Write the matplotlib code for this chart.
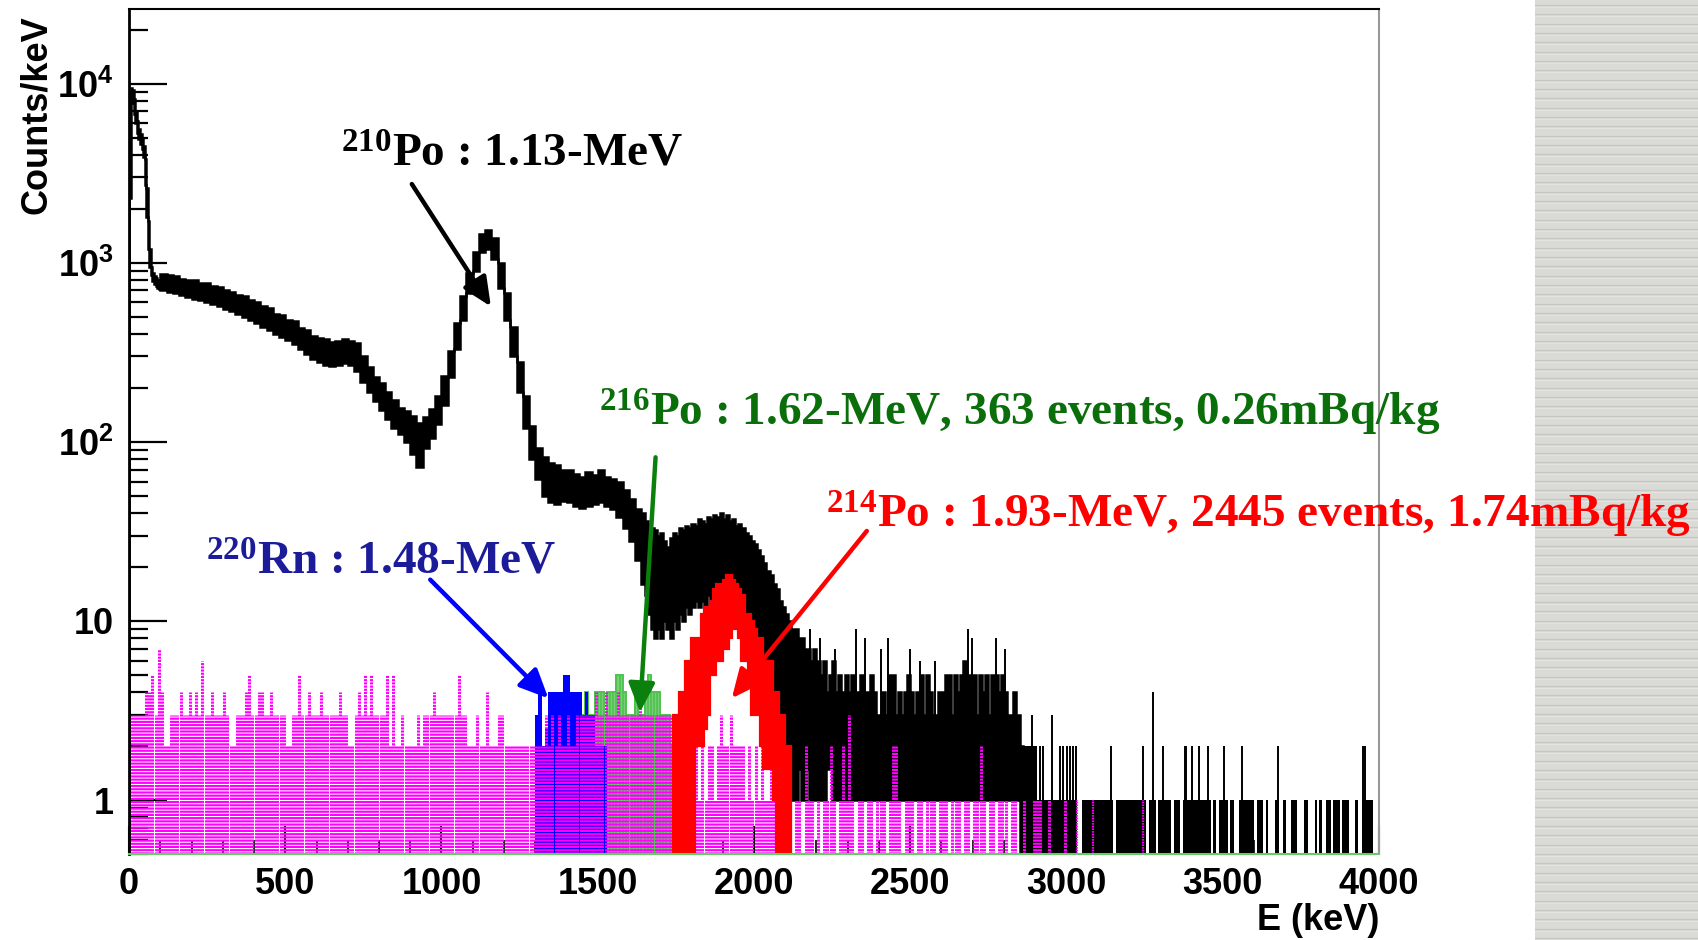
import numpy as np
import matplotlib
matplotlib.use('Agg')
import matplotlib.pyplot as plt
from matplotlib.ticker import FixedLocator, FixedFormatter, NullFormatter, MultipleLocator

plt.rcParams['font.family'] = 'Liberation Sans'
plt.rcParams['font.weight'] = 'bold'
plt.rcParams['axes.labelweight'] = 'bold'
plt.rcParams['mathtext.fontset'] = 'custom'
plt.rcParams['mathtext.rm'] = 'Liberation Serif:bold'
plt.rcParams['mathtext.it'] = 'Liberation Serif:bold:italic'
plt.rcParams['mathtext.bf'] = 'Liberation Sans:bold'
plt.rcParams['mathtext.sf'] = 'Liberation Sans:bold'

Y_BOTTOM = 0.5

# ---- black: total spectrum, drawn as a noisy band (upper / lower envelope) ----
blk_edges = np.concatenate([np.arange(0, 100, 5), np.arange(100, 1640, 20),
                            np.arange(1640, 2861, 10)])
# 0-100 keV, 5 keV bins
blk_hi_a = [9000, 9500, 9200, 8200, 7000, 6200, 5600, 5200, 4900, 4500,
            3800, 2600, 1700, 1200, 950, 880, 840, 820, 800, 790]
blk_lo_a = [2300, 8000, 7800, 6800, 6000, 5300, 4900, 4600, 4300, 3900,
            2700, 1800, 1200, 950, 850, 790, 760, 740, 720, 710]
# 100-1640 keV, 20 keV bins
blk_hi_b = [860, 850, 840, 810, 800, 800, 770, 770, 740, 730,
            700, 690, 660, 650, 620, 600, 570, 560, 520, 510,
            480, 470, 430, 420, 390, 380, 375, 360, 365, 375,
            365, 355, 300, 262, 230, 212, 190, 172, 155, 148,
            140, 128, 138, 152, 180, 232, 320, 460, 650, 880,
            1150, 1450, 1530, 1380, 1000, 680, 440, 280, 180, 122,
            92, 82, 76, 74, 70, 70, 66, 64, 68, 65,
            70, 64, 62, 60, 54, 48, 42]
blk_lo_b = [700, 690, 680, 660, 640, 630, 620, 600, 590, 570,
            550, 540, 520, 500, 480, 460, 440, 420, 400, 385,
            370, 350, 330, 310, 290, 280, 270, 265, 270, 275,
            270, 250, 215, 190, 170, 150, 135, 120, 110, 100,
            85, 72, 92, 105, 125, 160, 230, 330, 480, 680,
            900, 1150, 1200, 1050, 720, 480, 300, 190, 120, 80,
            62, 50, 46, 45, 47, 46, 44, 43, 44, 45,
            46, 44, 42, 38, 33, 28, 22]
# 1640-2860 keV, 10 keV bins
blk_hi_c = [40, 36, 35, 33, 32, 30,
            31, 28, 26, 29, 31, 30, 33, 32, 34, 33,
            35, 34, 37, 36, 35, 38, 37, 39, 38, 40,
            37, 39, 36, 37, 34, 35, 33, 31, 30, 28,
            27, 25, 23, 21, 19, 18, 16, 15, 13, 12,
            11, 10, 9, 9, 8, 8, 7, 7, 6, 7,
            6, 5, 6, 4, 5, 6, 4, 5, 4, 5,
            4, 5, 3, 4, 5, 3, 4, 5, 4, 3,
            3, 4, 3, 5, 5, 3, 4, 3, 4, 5,
            4, 3, 4, 5, 3, 5, 4, 3, 3, 4,
            4, 5, 5, 3, 5, 4, 5, 6, 5, 4,
            5, 3, 5, 4, 5, 3, 5, 5, 4, 5,
            4, 3, 3, 4, 3, 2]
blk_lo_c = [16, 14, 11, 9, 8, 9,
            8, 10, 9, 8, 10, 9, 11, 10, 12, 11,
            12, 13, 12, 13, 12, 14, 13, 13, 14, 13,
            12, 13, 12, 11, 12, 10, 10, 9, 9, 8,
            7, 6, 6, 5, 4, 4, 3, 3, 2.5, 2,
            2, 1.5, 1, 1, 1.5, 1, 1, 1.5, 1, 1,
            1, 1, 1, 1.5, 1.5, 1, 1, 1, 1, 1,
            1, 1, 1, 1, 1, 1, 1, 1, 1, 1,
            1, 1, 1, 1, 1, 1, 1, 1, 1, 1,
            1, 1, 1, 1, 1, 1, 1, 1, 1, 1,
            1, 1, 1, 1, 1, 1, 1, 1, 1, 1,
            1, 1, 1, 1, 1, 1, 1, 1, 1, 1,
            1, 1, 1, 1, 1, 0.5]

# sparse tail above 2850 keV: blocks of counts and single-bin spikes
tail_start = [2850, 2862, 3049, 3160, 3265, 3294, 3345, 3374, 3470, 3489, 3523,
              3551, 3609, 3637, 3666, 3694, 3717, 3760, 3794, 3809, 3830,
              3854, 3882, 3924, 3947]
tail_end = [3033, 2904, 3150, 3256, 3286, 3336, 3363, 3464, 3478, 3516, 3537,
            3600, 3628, 3645, 3679, 3702, 3739, 3774, 3802, 3819, 3848,
            3875, 3904, 3933, 3981]
tail_count = [1, 2, 1, 1, 1, 1, 1, 1, 1, 1, 1,
              1, 1, 1, 1, 1, 1, 1, 1, 1, 1,
              1, 1, 1, 1]
spike_E = [2179, 2211, 2260, 2328, 2355, 2408, 2430, 2499, 2530, 2580, 2686,
           2699, 2774, 2803, 2888, 2915, 2925, 2952, 2980, 2990, 3000, 3010,
           3020, 3030, 3141, 3246, 3277, 3310, 3378, 3384, 3403, 3424, 3453,
           3503, 3562, 3676, 3948, 3955]
spike_c = [9, 8, 7, 9, 8, 7, 8, 7, 6, 6, 9,
           8, 8, 7, 3, 2, 2, 3, 2, 2, 2, 2,
           2, 2, 2, 2, 4, 2, 2, 2, 2, 2, 2,
           2, 2, 2, 2, 2]

# ---- 220Rn (blue) ----
blu_edges = np.arange(1300, 1531, 10)
blu_hi = [3, 4, 2, 2.5, 4, 4, 4, 4, 4, 5, 5, 4, 4, 4, 4, 3, 4, 3, 3, 2, 2, 2, 2]

# ---- 216Po (green) ----
grn_edges = np.arange(1450, 1761, 10)
grn_hi = [3, 4, 3, 3, 4, 4, 4, 3, 4, 4, 4, 5, 5, 4, 3, 3, 3, 4, 3, 3,
          4, 5, 4, 4, 4, 3, 3, 3, 2, 2, 2]

# ---- 214Po (red) ----
red_edges = np.arange(1740, 2121, 10)
red_hi = [3, 3, 4, 4, 6, 6, 8, 8, 8, 11, 12, 12, 13, 15, 16, 16, 17, 18, 18,
          17, 16, 15, 14, 11, 11, 10, 9, 8, 8, 6, 6, 6, 4, 4, 3, 3, 2, 2]
red_lo = [0.5, 0.5, 0.5, 0.5, 0.5, 0.5, 0.5, 2, 2, 2, 2.5, 3, 5, 5, 6, 6, 7, 7, 8,
          9, 9, 8, 6, 6, 5, 3, 3, 3, 2, 1.5, 1.5, 1.5, 1, 0.5, 0.5, 0.5, 0.5, 0.5]

# ---- background (magenta, dotted), 10 keV bins from 0 keV ----
mag_E = np.arange(0, 3000, 10)
mag_lvl = [3, 3, 3, 3, 3, 4, 4, 5, 3, 7,
           4, 2, 2, 3, 3, 3, 4, 3, 3, 4,
           3, 4, 3, 6, 3, 3, 4, 3, 3, 3,
           4, 3, 2, 2, 3, 3, 3, 4, 5, 3,
           3, 4, 4, 3, 3, 4, 3, 3, 3, 3,
           2, 2, 3, 3, 5, 3, 3, 4, 3, 3,
           3, 4, 3, 3, 3, 3, 3, 4, 3, 3,
           2, 2, 3, 4, 3, 5, 3, 5, 3, 3,
           3, 3, 5, 2, 5, 2, 2, 3, 2, 2,
           2, 2, 3, 2, 3, 3, 3, 4, 3, 3,
           3, 3, 3, 3, 3, 5, 3, 3, 2, 2,
           2, 3, 2, 2, 4, 2, 2, 2, 3, 3,
           2, 2, 2, 2, 2, 2, 2, 2, 2, 2,
           2, 2, 2, 3, 2, 3, 2, 3, 2, 2,
           3, 2, 2, 3, 3, 3, 3, 3, 3, 4,
           3, 3, 4, 3, 3, 3, 4, 3, 3, 3,
           3, 3, 3, 4, 3, 3, 3, 3, 3, 3,
           3, 3, 3, 3, 3, 3, 2, 2, 2, 2,
           1, 2, 1, 2, 1, 2, 2, 1, 2, 3,
           2, 2, 3, 2, 2, 2, 2, 1, 2, 1,
           2, 1, 2, 1, 1, 2, 1, 1, 1, 1,
           1, 1, 0, 1, 1, 0, 2, 1, 1, 0,
           1, 0, 1, 1, 2, 1, 0, 1, 2, 1,
           3, 1, 0, 1, 1, 0, 1, 1, 0, 1,
           1, 1, 0, 1, 2, 2, 1, 0, 1, 1,
           1, 0, 1, 1, 0, 1, 1, 1, 0, 1,
           1, 1, 0, 1, 1, 1, 0, 1, 1, 0,
           1, 1, 2, 1, 0, 1, 1, 0, 1, 1,
           1, 0, 1, 1, 0, 0, 1, 0, 0, 1,
           1, 1, 0, 0, 1, 0, 0, 0, 0, 1]
mag_xtra_E = [3035, 3085, 3245]

# ---- labels / arrows: (text, text colour, arrow colour, text anchor, arrow tail, arrow tip) ----
notes = [
    (r'$^{\mathrm{210}}$Po : 1.13-MeV', 'black', 'black', (678, 3480), (905, 2750), (1158, 570)),
    (r'$^{\mathrm{216}}$Po : 1.62-MeV, 363 events, 0.26mBq/kg', '#0a6e0a', '#0c800c',
     (1504, 123), (1685, 82), (1635, 3.1)),
    (r'$^{\mathrm{214}}$Po : 1.93-MeV, 2445 events, 1.74mBq/kg', '#ff0000', '#ff0000',
     (2230, 33), (2361, 31.8), (1929, 3.7)),
    (r'$^{\mathrm{220}}$Rn : 1.48-MeV', '#1c1c9a', '#0000ff', (246, 18.3), (964, 17.0), (1342, 3.7)),
]

fig = plt.figure(figsize=(16.99, 9.40), dpi=100)

# striped grey slide border on the right
bg = fig.add_axes([1535 / 1699, 0, 164 / 1699, 1])
bg.set_xlim(0, 1)
bg.set_ylim(0, 940)
bg.set_facecolor('#dadbd6')
for yy in np.arange(2, 940, 9.33):
    bg.axhline(yy, color='#c6c7c2', lw=0.9)
    bg.axhline(yy - 2, color='#e4e5e0', lw=0.7)
bg.set_xticks([])
bg.set_yticks([])
for s in bg.spines.values():
    s.set_visible(False)
bg.set_zorder(-1)

ax = fig.add_axes([129 / 1699, 1 - 854 / 940, 1250 / 1699, (854 - 9.3) / 940])
ax.set_yscale('log')
ax.set_xlim(0, 4000)
ax.set_ylim(Y_BOTTOM, 26000)

blk_hi = np.concatenate([blk_hi_a, blk_hi_b, blk_hi_c])
blk_lo = np.concatenate([blk_lo_a, blk_lo_b, blk_lo_c])
ax.stairs(blk_hi, blk_edges, baseline=blk_lo, fill=True, color='black', lw=1.0, zorder=2)
ax.stairs(blk_hi, blk_edges, color='black', lw=1.8, zorder=2)
ax.stairs(blk_lo, blk_edges, color='black', lw=1.8, zorder=2)
ax.bar(tail_start, np.array(tail_count) - Y_BOTTOM, bottom=Y_BOTTOM,
       width=np.array(tail_end) - np.array(tail_start), align='edge', color='black',
       lw=0, zorder=2)
ax.vlines(spike_E, 1, spike_c, color='black', lw=1.4, zorder=2)

# green and blue underneath the dotted background
ax.stairs(grn_hi, grn_edges, baseline=Y_BOTTOM, fill=True, color='#7ccc7c', lw=0, zorder=2.1)
ax.vlines(grn_edges[:-1], Y_BOTTOM, grn_hi, color='#4cc44c', lw=1.2, zorder=2.1)
ax.stairs(grn_hi, grn_edges, color='#4cc44c', lw=1.4, zorder=2.1)
ax.stairs(blu_hi, blu_edges, baseline=Y_BOTTOM, fill=True, color='#0000ff', lw=0.8, zorder=2.2)

mag = np.array(mag_lvl)
sel = mag > 0
ax.vlines(mag_E[sel] + 5, Y_BOTTOM, mag[sel], colors='#ff00ff', lw=2.2,
          linestyles=[(0, (0.7, 0.35))], zorder=2.3)
ax.vlines(mag_xtra_E, Y_BOTTOM, 1, colors='#ff00ff', lw=1.6,
          linestyles=[(0, (0.7, 0.5))], zorder=2.3)

ax.stairs(red_hi, red_edges, baseline=red_lo, fill=True, color='#ff0000', lw=1.0, zorder=2.4)
ax.stairs(red_hi, red_edges, color='#ff0000', lw=1.6, zorder=2.4)
ax.stairs(red_lo, red_edges, color='#ff0000', lw=1.6, zorder=2.4)

for text, tcol, acol, txy, tail, tip in notes:
    ax.text(txy[0], txy[1], text, color=tcol, fontsize=34, family='Liberation Serif',
            weight='bold', ha='left', va='baseline', zorder=5)
    ax.annotate('', xy=tip, xytext=tail, zorder=5,
                arrowprops=dict(arrowstyle='-|>,head_length=0.7,head_width=0.32',
                                color=acol, lw=3.2, mutation_scale=25,
                                shrinkA=0, shrinkB=0))

# axes styling (ROOT look)
ax.xaxis.set_major_locator(MultipleLocator(500))
ax.xaxis.set_minor_locator(MultipleLocator(100))
ax.yaxis.set_major_locator(FixedLocator([1, 10, 100, 1000, 10000]))
ax.yaxis.set_major_formatter(FixedFormatter(['1', '10', r'$\mathbf{10^{2}}$',
                                             r'$\mathbf{10^{3}}$', r'$\mathbf{10^{4}}$']))
minor_y = [m * 10.0 ** d for d in range(-1, 5) for m in range(2, 10)]
ax.yaxis.set_minor_locator(FixedLocator(minor_y))
ax.yaxis.set_minor_formatter(NullFormatter())
ax.tick_params(axis='y', which='major', direction='in', length=27, width=1.6,
               pad=11, labelsize=26)
ax.tick_params(axis='y', which='minor', direction='in', length=13.5, width=1.6)
ax.tick_params(axis='x', which='major', direction='in', length=20, width=1.5,
               pad=9, labelsize=26)
ax.tick_params(axis='x', which='minor', direction='in', length=10, width=1.2)
ax.tick_params(top=False, right=False)
ax.set_axisbelow(True)
ax.spines['left'].set_linewidth(2.0)
ax.spines['top'].set_linewidth(1.5)
ax.spines['right'].set_color('#999999')
ax.spines['right'].set_linewidth(1.5)
ax.spines['bottom'].set_color('#66cc66')
ax.spines['bottom'].set_linewidth(1.5)

ax.set_xlabel('E (keV)', fontsize=26, fontweight='bold', loc='right')
ax.xaxis.set_label_coords(1.0, -0.058)
ax.set_ylabel('Counts/keV', fontsize=26, fontweight='bold', loc='top')
ax.yaxis.set_label_coords(-0.06, 0.993)

fig.savefig('out.png', dpi=100)
